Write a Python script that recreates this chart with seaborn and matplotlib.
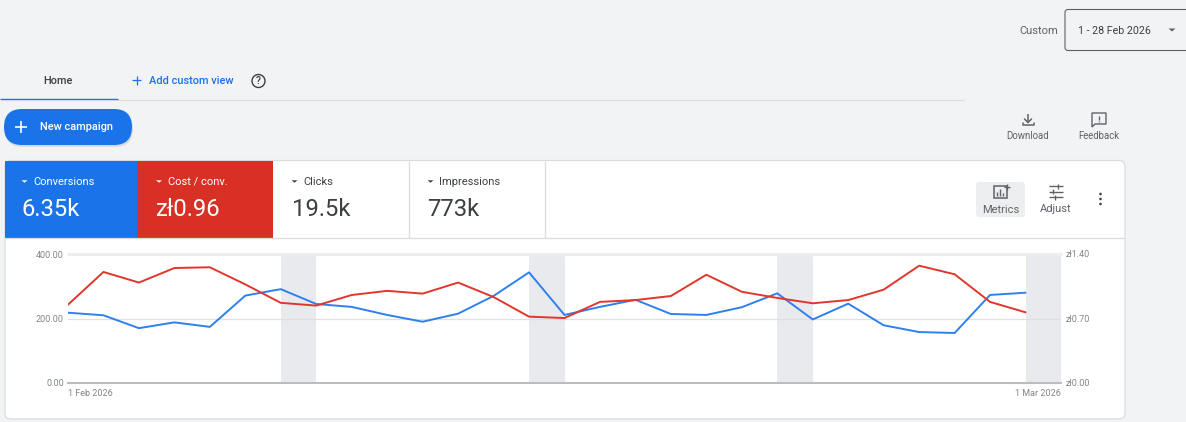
import pandas as pd
import seaborn as sns
import matplotlib.pyplot as plt
import matplotlib.dates as mdates
from matplotlib.patches import FancyBboxPatch, Rectangle, Polygon, Circle

W, H = 1186, 422

# values
days = pd.date_range("2026-02-01", "2026-02-28")
conversions = [218, 210, 170, 188, 174, 271, 291, 245, 236, 211, 190, 215, 270, 343,
               211, 236, 258, 214, 211, 235, 278, 197, 246, 179, 158, 155, 273, 280]
cost_conv = [0.85, 1.205, 1.09, 1.248, 1.256, 1.07, 0.87, 0.84, 0.955, 1.00, 0.97, 1.09, 0.933, 0.72,
             0.705, 0.88, 0.90, 0.944, 1.175, 0.99, 0.923, 0.865, 0.90, 1.013, 1.273, 1.18, 0.88, 0.767]
left_ticks = [0, 200, 400]
right_ticks = [0, 0.7, 1.4]
date_ticks = ["2026-02-01", "2026-03-01"]
date_labels = ["1 Feb 2026", "1 Mar 2026"]

BG = "#f1f3f5"
BLUE = "#1a73e8"
RED = "#d93025"
LINE_BLUE = "#2f80ed"
LINE_RED = "#e0362c"
DARK = "#3c4043"
GREY = "#5f6368"
LIGHT = "#dadce0"

sns.set_theme(style="white")
plt.rcParams["font.family"] = ["Roboto", "DejaVu Sans"]

df = pd.DataFrame({"date": days, "conversions": conversions, "cost": cost_conv})

fig = plt.figure(figsize=(W / 100, H / 100), dpi=100, facecolor=BG)

# page furniture, drawn in pixel coordinates
ui = fig.add_axes([0, 0, 1, 1], zorder=0)
ui.set_xlim(0, W)
ui.set_ylim(H, 0)
ui.axis("off")


def txt(x, y, s, size=6.8, color=GREY, ha="left", **kw):
    ui.text(x, y + 0.7, s, fontsize=size, color=color, ha=ha, va="center", **kw)


def rounded(x0, y0, x1, y1, r, fc, ec="none", lw=1, **kw):
    ui.add_patch(FancyBboxPatch((x0 + r, y0 + r), x1 - x0 - 2 * r, y1 - y0 - 2 * r,
                                boxstyle=f"round,pad={r},rounding_size={r}",
                                fc=fc, ec=ec, lw=lw, **kw))


def line(xs, ys, color=GREY, lw=1.0):
    ui.plot(xs, ys, color=color, lw=lw, solid_capstyle="butt")


def caret(x, y, color, w=3.5, h=3):
    ui.add_patch(Polygon([(x - w, y - h / 2), (x + w, y - h / 2), (x, y + h / 2)], fc=color, ec="none"))


# tabs
txt(57.5, 80, "Home", 7.9, DARK, ha="center", fontweight="medium")
line([118, 964], [99.5, 99.5], LIGHT, 0.9)
line([0, 118], [99, 99], BLUE, 1.0)
line([132, 141], [80, 80], BLUE, 0.9)
line([136.5, 136.5], [75.5, 84.5], BLUE, 0.9)
txt(149, 80, "Add custom view", 7.9, BLUE, fontweight="medium")
ui.add_patch(Circle((258.5, 81), 6.5, fc="none", ec=DARK, lw=1.0))
txt(258.5, 80.5, "?", 7.5, DARK, ha="center", fontweight="medium")

# date range
txt(1058, 30, "Custom", 8, GREY, ha="right")
rounded(1065, 9.5, 1200, 50.5, 3, BG, ec=GREY, lw=0.8)
txt(1078, 30, "1 - 28 Feb 2026", 7.7, DARK)
caret(1172, 30, GREY, 3.5, 3)

# new campaign button
rounded(5, 111, 133, 147, 18, "#c9ccd1", alpha=0.6)
rounded(4, 109, 132, 145, 18, BLUE)
line([15, 27], [127, 127], "white", 1.2)
line([21, 21], [121, 133], "white", 1.2)
txt(40, 126, "New campaign", 7.9, "white", fontweight="medium")

# download / feedback
line([1028, 1028], [114, 122], GREY, 1.1)
ui.plot([1024.5, 1028, 1031.5], [119, 122.5, 119], color=GREY, lw=1.1)
ui.plot([1022.5, 1022.5, 1033.5, 1033.5], [122.5, 125, 125, 122.5], color=GREY, lw=1.1)
txt(1028, 135, "Download", 6.9, GREY, ha="center")
ui.add_patch(Polygon([(1092, 113), (1106, 113), (1106, 124), (1095, 124), (1092, 127)],
                     fc="none", ec=GREY, lw=1.0))
line([1099, 1099], [115.5, 120], GREY, 1.0)
line([1099, 1099], [121, 122.3], GREY, 1.0)
txt(1099, 135, "Feedback", 6.9, GREY, ha="center")

# card and scorecards
rounded(5, 160.5, 1125, 419, 6, "white", ec=LIGHT, lw=0.9)
ui.add_patch(Rectangle((5, 161), 132, 77, fc=BLUE, ec="none"))
ui.add_patch(Rectangle((137, 161), 136, 77, fc=RED, ec="none"))
line([5, 1125], [238.3, 238.3], LIGHT, 0.9)
line([409.3, 409.3], [161, 238], LIGHT, 0.9)
line([545.3, 545.3], [161, 238], LIGHT, 0.9)

tile_x = [21.5, 156, 291.5, 427.5]
tile_names = ["Conversions", "Cost / conv.", "Clicks", "Impressions"]
tile_values = ["6.35k", "zł0.96", "19.5k", "773k"]
tile_colors = ["white", "white", DARK, DARK]
for x, name, value, c in zip(tile_x, tile_names, tile_values, tile_colors):
    caret(x + 3, 181.5, c, 3, 2.4)
    txt(x + 12, 181, name, 8, c)
    txt(x, 208.5, value, 17.2, c)

# metrics / adjust / more
rounded(976, 182, 1025, 217, 3, "#eceeef")
ui.add_patch(Rectangle((993.5, 185.5), 13, 12, fc="none", ec=GREY, lw=1.1))
for bx, top in zip([997, 1000, 1003], [192, 189, 193]):
    line([bx, bx], [top, 195.5], GREY, 1.0)
line([1004, 1010], [187, 187], GREY, 1.0)
line([1007, 1007], [184, 190], GREY, 1.0)
txt(1001, 209, "Metrics", 8, GREY, ha="center")
for sy, a, b in zip([186, 191.5, 197], [1058, 1053, 1055], [1060, 1055, 1057]):
    line([1049, 1063], [sy, sy], GREY, 1.0)
    line([a, a], [sy - 2.5, sy + 2.5], GREY, 1.0)
txt(1055.5, 208, "Adjust", 8, GREY, ha="center")
for dy in [194, 199, 204]:
    ui.add_patch(Circle((1100.5, dy), 1.3, fc=DARK, ec="none"))

# chart, aligned to the card pixels
ax = fig.add_axes([68 / W, (H - 383) / H, 993 / W, 129 / H], zorder=2)
ax.patch.set_alpha(0)
x_min, x_max = pd.Timestamp("2026-02-01"), pd.Timestamp("2026-03-01")

# weekend bands
for d in days[days.dayofweek == 5]:
    ax.axvspan(d, d + pd.Timedelta(days=1), fc="#e8eaed", ec="none", zorder=0)

sns.lineplot(data=df, x="date", y="conversions", ax=ax, color=LINE_BLUE, lw=1.4, zorder=3)
ax.set_xlim(x_min, x_max)
ax.set_ylim(left_ticks[0], left_ticks[-1])
ax.set_yticks(left_ticks)
ax.set_yticklabels([f"{v:.2f}" for v in left_ticks])
ax.set_xticks(pd.to_datetime(date_ticks))
ax.set_xticklabels(date_labels)
ax.xaxis.set_major_locator(plt.FixedLocator(mdates.date2num(pd.to_datetime(date_ticks))))
ax.set_xlabel("")
ax.set_ylabel("")
ax.tick_params(axis="y", length=0, pad=3, labelsize=6.5, labelcolor="#80868b")
ax.tick_params(axis="x", length=0, pad=4.5, labelsize=6.5, labelcolor="#80868b")
labels = ax.get_xticklabels()
labels[0].set_ha("left")
labels[1].set_ha("right")
ax.grid(False)
ax.axhline(200, color="#e0e0e0", lw=0.9, zorder=1)
ax.axhline(400, color="#eeeeee", lw=2.2, zorder=1, clip_on=False)
for s in ["top", "left", "right"]:
    ax.spines[s].set_visible(False)
ax.spines["bottom"].set_color("#bdbdbd")
ax.spines["bottom"].set_linewidth(1.5)

ax2 = ax.twinx()
ax2.patch.set_alpha(0)
sns.lineplot(data=df, x="date", y="cost", ax=ax2, color=LINE_RED, lw=1.4, zorder=4)
ax2.set_ylim(right_ticks[0], right_ticks[-1])
ax2.set_yticks(right_ticks)
ax2.set_yticklabels([f"zł{v:.2f}" for v in right_ticks])
ax2.set_ylabel("")
ax2.tick_params(axis="y", length=0, pad=3, labelsize=6.5, labelcolor="#80868b")
for s in ax2.spines.values():
    s.set_visible(False)

fig.savefig("out.png", dpi=100, facecolor=BG)
